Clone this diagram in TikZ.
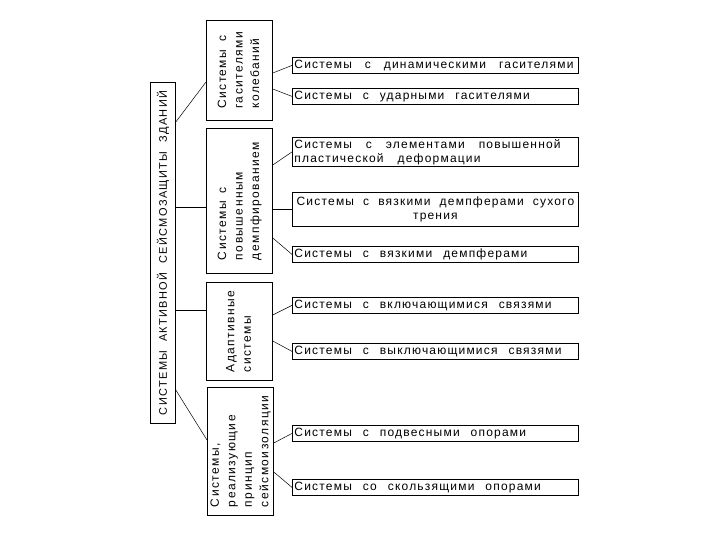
\documentclass[tikz,border=0pt]{standalone}
\usepackage{fontspec}
\setmainfont{Liberation Sans}
\newfontfamily\caditem[LetterSpace=10]{Liberation Sans}
\newfontfamily\cadmain[LetterSpace=12]{Liberation Sans}
\usepackage{graphicx}
\begin{document}
\begin{tikzpicture}[x=1pt,y=-1pt]
\tikzset{
  boxline/.style={draw, line width=0.8pt},
  wide spaces/.style={execute at begin node={\spaceskip=#1 plus 1pt minus 1pt\relax}},
  itembox/.style={boxline, anchor=north west, inner xsep=2pt, inner ysep=0pt,
    minimum width=286, minimum height=16, text width=282pt, align=left,
    font=\caditem\fontsize{12}{14}\selectfont, wide spaces=11pt},
  catbox/.style={boxline, anchor=north west, inner sep=0pt, minimum width=66,
    font=\cadmain\fontsize{12}{16.5}\selectfont, wide spaces=8pt},
  mainbox/.style={boxline, anchor=north west, inner sep=0pt, minimum width=25,
    minimum height=341, font=\cadmain\fontsize{11}{14}\selectfont, wide spaces=9pt},
  link/.style={line width=0.5pt}
}
\useasboundingbox (0,0) rectangle (720,540);

\node[mainbox] (m) at (150,82) {\rotatebox{90}{СИСТЕМЫ АКТИВНОЙ СЕЙСМОЗАЩИТЫ ЗДАНИЙ}};

\node[catbox, minimum height=100] (c1) at (206,20)
  {\rotatebox{90}{\begin{tabular}{@{}l@{}}Системы с\\гасителями\\колебаний\end{tabular}}};
\node[catbox, minimum height=145] (c2) at (206,128)
  {\rotatebox{90}{\begin{tabular}{@{}l@{}}Системы с\\повышенным\\демпфированием\end{tabular}}};
\node[catbox, minimum height=98] (c3) at (206,282)
  {\rotatebox{90}{\begin{tabular}{@{}l@{}}Адаптивные\\системы\end{tabular}}};
\node[catbox, minimum height=128] (c4) at (207,387)
  {\rotatebox{90}{\begin{tabular}{@{}l@{}}Системы,\\реализующие\\принцип\\сейсмоизоляции\end{tabular}}};

\node[itembox, wide spaces=13pt] (i1) at (292,57) {Системы с динамическими гасителями};
\node[itembox] (i2) at (292,88) {Системы с ударными гасителями};
\node[itembox, minimum height=29, wide spaces=14pt] (i3) at (292,137) {Системы с элементами повышенной\\пластической деформации};
\node[itembox, minimum height=34, align=center, wide spaces=9pt] (i4) at (292,192) {Системы с вязкими демпферами сухого\\трения};
\node[itembox] (i5) at (292,246) {Системы с вязкими демпферами};
\node[itembox] (i6) at (292,297) {Системы с включающимися связями};
\node[itembox] (i7) at (292,343) {Системы с выключающимися связями};
\node[itembox] (i8) at (292,425) {Системы с подвесными опорами};
\node[itembox] (i9) at (292,479) {Системы со скользящими опорами};

\draw[link] (m.east |- 0,122) -- (c1.west |- 0,82);
\draw[link] (m.east |- 0,207) -- (c2.west |- 0,207);
\draw[link] (m.east |- 0,310) -- (c3.west |- 0,310);
\draw[link] (m.east |- 0,390) -- (c4.west |- 0,440);

\draw[link] (c1.east |- 0,73) -- (i1.west);
\draw[link] (c1.east |- 0,89) -- (i2.west);
\draw[link] (c2.east |- 0,165) -- (i3.west);
\draw[link] (c2.east |- i4.west) -- (i4.west);
\draw[link] (c2.east |- 0,238) -- (i5.west);
\draw[link] (c3.east |- 0,315) -- (i6.west);
\draw[link] (c3.east |- 0,341) -- (i7.west);
\draw[link] (c4.east |- 0,443) -- (i8.west);
\draw[link] (c4.east |- 0,472) -- (i9.west);
\end{tikzpicture}
\end{document}
